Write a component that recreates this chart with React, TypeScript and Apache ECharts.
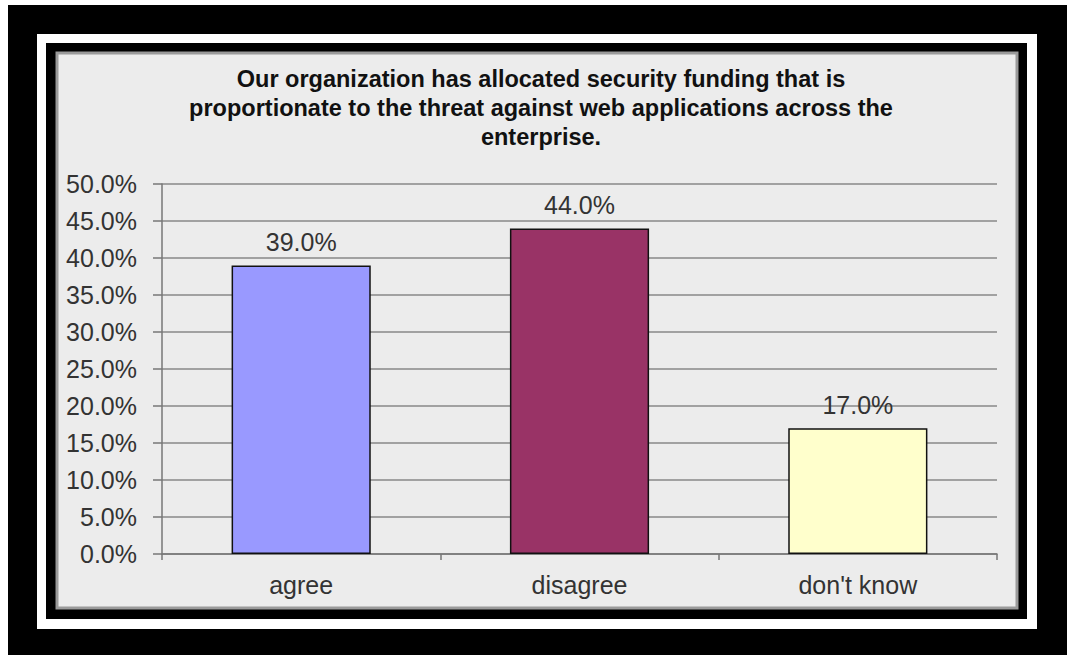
import React, { useEffect, useRef } from "react";
import * as echarts from "echarts";

const categories = ["agree", "disagree", "don't know"];
const values = [39.0, 44.0, 17.0];
const barColors = ["#9999ff", "#993366", "#ffffcc"];
const titleText =
  "Our organization has allocated security funding that is\nproportionate to the threat against web applications across the\nenterprise.";

export default function App() {
  const ref = useRef<HTMLDivElement>(null);
  useEffect(() => {
    if (!ref.current) return;
    const chart = echarts.init(ref.current, null, { renderer: "svg" });
    const font = "'Liberation Sans', Arial, sans-serif";
    chart.setOption({
      animation: false,
      backgroundColor: "#ffffff",
      title: {
        text: titleText,
        left: 536,
        top: 59,
        textAlign: "center",
        textStyle: {
          fontFamily: font,
          fontSize: 23.5,
          fontWeight: "bold",
          color: "#111",
          lineHeight: 29,
        },
      },
      graphic: [
        { type: "rect", z: -10, shape: { x: 8, y: 5, width: 1059, height: 650 }, style: { fill: "#000" } },
        { type: "rect", z: -9, shape: { x: 37, y: 34, width: 1000, height: 595 }, style: { fill: "#fff" } },
        { type: "rect", z: -8, shape: { x: 46, y: 43, width: 981, height: 576 }, style: { fill: "#000" } },
        {
          type: "rect",
          z: -7,
          shape: { x: 57, y: 53, width: 960, height: 555 },
          style: { fill: "#ececec", stroke: "#9a9a9a", lineWidth: 3 },
        },
      ],
      grid: { left: 162, right: 70, top: 184, bottom: 101 },
      xAxis: {
        type: "category",
        data: categories,
        axisLine: { lineStyle: { color: "#777", width: 1.5 } },
        axisTick: { show: true, length: 6, alignWithLabel: false, lineStyle: { color: "#777", width: 1.5 } },
        axisLabel: { fontFamily: font, fontSize: 25, color: "#333", margin: 18 },
      },
      yAxis: {
        type: "value",
        min: 0,
        max: 50,
        interval: 5,
        axisLine: { show: true, lineStyle: { color: "#777", width: 1.5 } },
        axisTick: { show: true, length: 9, lineStyle: { color: "#777", width: 1.5 } },
        splitLine: { lineStyle: { color: "#888", width: 1.5 } },
        axisLabel: {
          fontFamily: font,
          fontSize: 25,
          color: "#333",
          margin: 25,
          formatter: (v: number) => v.toFixed(1) + "%",
        },
      },
      series: [
        {
          type: "bar",
          barWidth: "50%",
          data: values.map((v, i) => ({
            value: v,
            itemStyle: { color: barColors[i], borderColor: "#111", borderWidth: 1.5 },
          })),
          label: {
            show: true,
            position: "top",
            distance: 11,
            fontFamily: font,
            fontSize: 25,
            color: "#333",
            formatter: (p: any) => p.value.toFixed(1) + "%",
          },
        },
      ],
    });
    return () => chart.dispose();
  }, []);
  return (
    <div
      ref={ref}
      style={{ position: "fixed", left: 0, top: 0, width: 1067, height: 655 }}
    />
  );
}
